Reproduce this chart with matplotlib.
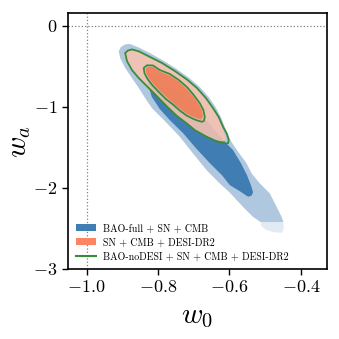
import matplotlib
matplotlib.use("Agg")
import matplotlib.pyplot as plt
from matplotlib.patches import Patch
from matplotlib.lines import Line2D

plt.rcParams['font.family'] = 'cmr10'
plt.rcParams['mathtext.fontset'] = 'cm'
plt.rcParams['axes.formatter.use_mathtext'] = True
plt.rcParams['axes.unicode_minus'] = True

# contour outlines, (w0, wa)
# BAO-full + SN + CMB, 95% region
blue_out_w0 = [-0.910, -0.904, -0.893, -0.879, -0.854, -0.823, -0.786, -0.750, -0.714, -0.683,
               -0.658, -0.638, -0.624, -0.613, -0.602, -0.596, -0.579, -0.552, -0.538, -0.515,
               -0.487, -0.468, -0.454, -0.449, -0.481, -0.512, -0.534, -0.562, -0.599, -0.627,
               -0.664, -0.702, -0.739, -0.778, -0.817, -0.836, -0.854, -0.873, -0.892, -0.906]
blue_out_wa = [-0.313, -0.260, -0.229, -0.222, -0.266, -0.334, -0.426, -0.525, -0.637, -0.754,
               -0.878, -1.007, -1.125, -1.248, -1.360, -1.421, -1.533, -1.697, -1.821, -1.944,
               -2.068, -2.234, -2.357, -2.423, -2.429, -2.423, -2.357, -2.234, -2.058, -1.944,
               -1.780, -1.574, -1.368, -1.187, -1.014, -0.890, -0.766, -0.643, -0.519, -0.396]
# faint tail at the bottom of the BAO-full region
blue_tail_w0 = [-0.512, -0.449, -0.448, -0.453, -0.476, -0.498, -0.512]
blue_tail_wa = [-2.423, -2.423, -2.497, -2.553, -2.546, -2.515, -2.466]
# BAO-full + SN + CMB, 68% region
blue_in_w0 = [-0.828, -0.823, -0.795, -0.748, -0.702, -0.669, -0.641, -0.613, -0.590, -0.568,
              -0.551, -0.540, -0.534, -0.538, -0.548, -0.571, -0.599, -0.621, -0.655, -0.694,
              -0.730, -0.767, -0.795, -0.817, -0.828, -0.831]
blue_in_wa = [-0.593, -0.581, -0.655, -0.791, -0.977, -1.137, -1.286, -1.430, -1.533, -1.693,
              -1.842, -1.965, -2.052, -2.095, -2.108, -2.040, -1.965, -1.842, -1.693, -1.508,
              -1.323, -1.162, -1.026, -0.878, -0.729, -0.643]

# SN + CMB + DESI-DR2
orange_out_w0 = [-0.896, -0.890, -0.873, -0.854, -0.826, -0.789, -0.753, -0.719, -0.691, -0.667,
                 -0.648, -0.632, -0.621, -0.613, -0.610, -0.618, -0.638, -0.664, -0.697, -0.719,
                 -0.747, -0.772, -0.798, -0.826, -0.854, -0.873, -0.888]
orange_out_wa = [-0.358, -0.303, -0.290, -0.319, -0.381, -0.464, -0.562, -0.667, -0.773, -0.896,
                 -1.020, -1.131, -1.248, -1.341, -1.403, -1.428, -1.409, -1.360, -1.279, -1.200,
                 -1.106, -1.000, -0.884, -0.760, -0.637, -0.538, -0.425]
orange_in_w0 = [-0.835, -0.828, -0.814, -0.795, -0.767, -0.742, -0.722, -0.702, -0.687, -0.677,
                -0.674, -0.679, -0.694, -0.719, -0.737, -0.757, -0.775, -0.793, -0.814, -0.828,
                -0.834]
orange_in_wa = [-0.525, -0.504, -0.507, -0.562, -0.612, -0.686, -0.766, -0.865, -0.958, -1.038,
                -1.112, -1.156, -1.137, -1.088, -1.026, -0.952, -0.884, -0.810, -0.711, -0.630,
                -0.575]

# BAO-noDESI + SN + CMB + DESI-DR2 (lines only)
green_out_w0 = [-0.892, -0.884, -0.873, -0.854, -0.826, -0.789, -0.753, -0.719, -0.691, -0.666,
                -0.646, -0.630, -0.618, -0.607, -0.602, -0.604, -0.608, -0.635, -0.664, -0.697,
                -0.719, -0.747, -0.772, -0.798, -0.826, -0.854, -0.873, -0.887]
green_out_wa = [-0.334, -0.303, -0.290, -0.313, -0.375, -0.457, -0.556, -0.661, -0.766, -0.890,
                -1.014, -1.125, -1.245, -1.335, -1.409, -1.446, -1.452, -1.428, -1.368, -1.286,
                -1.205, -1.112, -1.007, -0.890, -0.766, -0.643, -0.544, -0.433]
green_in_w0 = [-0.840, -0.831, -0.814, -0.795, -0.767, -0.742, -0.719, -0.700, -0.683, -0.673,
               -0.669, -0.672, -0.678, -0.697, -0.720, -0.739, -0.758, -0.778, -0.795, -0.817,
               -0.831, -0.838]
green_in_wa = [-0.519, -0.486, -0.488, -0.544, -0.593, -0.667, -0.754, -0.853, -0.955, -1.038,
               -1.125, -1.174, -1.183, -1.156, -1.106, -1.044, -0.970, -0.902, -0.828, -0.726,
               -0.643, -0.581]

labels = ['BAO-full + SN + CMB', 'SN + CMB + DESI-DR2', 'BAO-noDESI + SN + CMB + DESI-DR2']

LIGHT_BLUE = '#AFC7DF'
DARK_BLUE = '#3F7DB3'
PALE_BLUE = '#E2EBF3'
ORANGE_LIGHT = '#F7C3B0'
ORANGE = '#F07850'
GREEN = '#3A8C3A'

fig = plt.figure(figsize=(3.39, 3.39), dpi=100)
ax = fig.add_axes([0.2006, 0.2065, 0.764, 0.7552])

ax.axvline(-1.0, color='grey', ls=':', lw=0.9, zorder=0)
ax.axhline(0.0, color='grey', ls=':', lw=0.9, zorder=0)

ax.fill(blue_out_w0, blue_out_wa, color=LIGHT_BLUE, lw=0)
ax.fill(blue_tail_w0, blue_tail_wa, color=PALE_BLUE, lw=0)
ax.fill(blue_in_w0, blue_in_wa, color=DARK_BLUE, lw=0)
ax.fill(orange_out_w0, orange_out_wa, color=ORANGE_LIGHT, alpha=0.88, lw=0)
ax.fill(orange_in_w0, orange_in_wa, color=ORANGE, alpha=0.85, lw=0)
ax.fill(green_out_w0, green_out_wa, facecolor='none', edgecolor=GREEN, lw=1.3)
ax.fill(green_in_w0, green_in_wa, facecolor='none', edgecolor=GREEN, lw=1.3)

ax.set_xlim(-1.052, -0.327)
ax.set_ylim(-3.0, 0.16)
ax.set_xticks([-1.0, -0.8, -0.6, -0.4])
ax.set_yticks([0, -1, -2, -3])
ax.tick_params(labelsize=13, length=4, width=1, direction='out')
for s in ax.spines.values():
    s.set_linewidth(1.2)

ax.set_xlabel(r'$w_0$', fontsize=21, labelpad=6)
ax.set_ylabel(r'$w_a$', fontsize=21, labelpad=0)

handles = [Patch(facecolor=DARK_BLUE, edgecolor='none'),
           Patch(facecolor='#FF8462', edgecolor='none'),
           Line2D([0], [0], color=GREEN, lw=1.5)]
ax.legend(handles, labels, loc='lower left', frameon=False, fontsize=7.2,
          handlelength=2.0, handletextpad=0.7, labelspacing=0.45, borderaxespad=0.35)

fig.savefig('out.png', dpi=100)
